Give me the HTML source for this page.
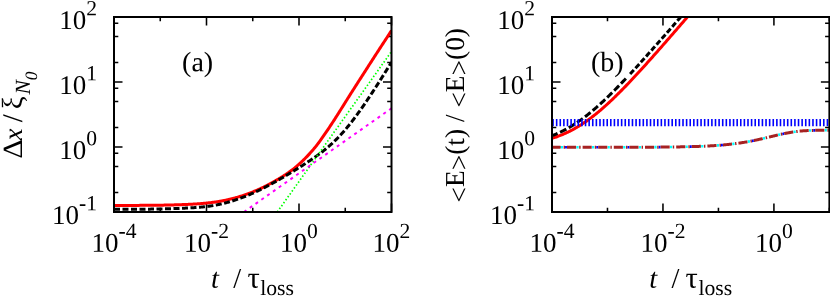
<!DOCTYPE html>
<html><head><meta charset="utf-8"><title>plot</title>
<style>html,body{margin:0;padding:0;background:#fff;}svg{display:block;will-change:transform;}text{text-rendering:geometricPrecision;font-family:"Liberation Serif",serif;fill:#000;}</style></head><body>
<svg width="830" height="297" viewBox="0 0 830 297">
<rect x="0" y="0" width="830" height="297" fill="#fff"/>
<clipPath id="c1"><rect x="114.00" y="17.00" width="277.50" height="195.00"/></clipPath>
<path d="M114.00,212.00v-8.50M114.00,17.00v8.50M160.25,212.00v-4.30M160.25,17.00v4.30M206.50,212.00v-8.50M206.50,17.00v8.50M252.75,212.00v-4.30M252.75,17.00v4.30M299.00,212.00v-8.50M299.00,17.00v8.50M345.25,212.00v-4.30M345.25,17.00v4.30M391.50,212.00v-8.50M391.50,17.00v8.50M114.00,212.00h8.50M391.50,212.00h-8.50M114.00,192.43h4.30M391.50,192.43h-4.30M114.00,166.57h4.30M391.50,166.57h-4.30M114.00,153.30h4.30M391.50,153.30h-4.30M114.00,147.00h8.50M391.50,147.00h-8.50M114.00,127.43h4.30M391.50,127.43h-4.30M114.00,101.57h4.30M391.50,101.57h-4.30M114.00,88.30h4.30M391.50,88.30h-4.30M114.00,82.00h8.50M391.50,82.00h-8.50M114.00,62.43h4.30M391.50,62.43h-4.30M114.00,36.57h4.30M391.50,36.57h-4.30M114.00,23.30h4.30M391.50,23.30h-4.30M114.00,17.00h8.50M391.50,17.00h-8.50" stroke="#000" stroke-width="1.55" fill="none"/>
<g clip-path="url(#c1)" fill="none">
<path d="M114.00,205.47 L114.70,205.46 L115.39,205.46 L116.09,205.46 L116.78,205.46 L117.48,205.46 L118.17,205.45 L118.87,205.45 L119.56,205.45 L120.26,205.45 L120.95,205.45 L121.65,205.45 L122.35,205.44 L123.04,205.44 L123.74,205.44 L124.43,205.44 L125.13,205.43 L125.82,205.43 L126.52,205.43 L127.21,205.43 L127.91,205.43 L128.61,205.42 L129.30,205.42 L130.00,205.42 L130.69,205.42 L131.39,205.41 L132.08,205.41 L132.78,205.41 L133.47,205.40 L134.17,205.40 L134.86,205.40 L135.56,205.40 L136.26,205.39 L136.95,205.39 L137.65,205.39 L138.34,205.38 L139.04,205.38 L139.73,205.37 L140.43,205.37 L141.12,205.37 L141.82,205.36 L142.52,205.36 L143.21,205.35 L143.91,205.35 L144.60,205.34 L145.30,205.34 L145.99,205.33 L146.69,205.33 L147.38,205.32 L148.08,205.32 L148.77,205.31 L149.47,205.31 L150.17,205.30 L150.86,205.29 L151.56,205.29 L152.25,205.28 L152.95,205.27 L153.64,205.27 L154.34,205.26 L155.03,205.25 L155.73,205.24 L156.42,205.23 L157.12,205.22 L157.82,205.22 L158.51,205.21 L159.21,205.20 L159.90,205.19 L160.60,205.18 L161.29,205.16 L161.99,205.15 L162.68,205.14 L163.38,205.13 L164.08,205.12 L164.77,205.10 L165.47,205.09 L166.16,205.08 L166.86,205.06 L167.55,205.05 L168.25,205.03 L168.94,205.02 L169.64,205.00 L170.33,204.98 L171.03,204.97 L171.73,204.95 L172.42,204.93 L173.12,204.91 L173.81,204.89 L174.51,204.87 L175.20,204.85 L175.90,204.83 L176.59,204.81 L177.29,204.78 L177.98,204.76 L178.68,204.74 L179.38,204.71 L180.07,204.69 L180.77,204.66 L181.46,204.64 L182.16,204.61 L182.85,204.58 L183.55,204.55 L184.24,204.53 L184.94,204.50 L185.64,204.47 L186.33,204.44 L187.03,204.41 L187.72,204.38 L188.42,204.34 L189.11,204.31 L189.81,204.28 L190.50,204.24 L191.20,204.21 L191.89,204.17 L192.59,204.13 L193.29,204.09 L193.98,204.05 L194.68,204.01 L195.37,203.97 L196.07,203.93 L196.76,203.88 L197.46,203.84 L198.15,203.79 L198.85,203.74 L199.55,203.69 L200.24,203.64 L200.94,203.58 L201.63,203.53 L202.33,203.47 L203.02,203.41 L203.72,203.35 L204.41,203.29 L205.11,203.22 L205.80,203.16 L206.50,203.09 L207.20,203.01 L207.89,202.94 L208.59,202.86 L209.28,202.79 L209.98,202.71 L210.67,202.62 L211.37,202.54 L212.06,202.45 L212.76,202.36 L213.45,202.26 L214.15,202.17 L214.85,202.07 L215.54,201.97 L216.24,201.86 L216.93,201.76 L217.63,201.65 L218.32,201.53 L219.02,201.42 L219.71,201.30 L220.41,201.18 L221.11,201.06 L221.80,200.93 L222.50,200.80 L223.19,200.66 L223.89,200.53 L224.58,200.39 L225.28,200.25 L225.97,200.10 L226.67,199.95 L227.36,199.80 L228.06,199.65 L228.76,199.49 L229.45,199.33 L230.15,199.16 L230.84,199.00 L231.54,198.83 L232.23,198.65 L232.93,198.47 L233.62,198.29 L234.32,198.11 L235.02,197.92 L235.71,197.73 L236.41,197.53 L237.10,197.34 L237.80,197.13 L238.49,196.93 L239.19,196.72 L239.88,196.51 L240.58,196.29 L241.27,196.07 L241.97,195.85 L242.67,195.62 L243.36,195.39 L244.06,195.16 L244.75,194.92 L245.45,194.68 L246.14,194.44 L246.84,194.19 L247.53,193.94 L248.23,193.68 L248.92,193.42 L249.62,193.16 L250.32,192.90 L251.01,192.63 L251.71,192.35 L252.40,192.07 L253.10,191.79 L253.79,191.51 L254.49,191.22 L255.18,190.93 L255.88,190.63 L256.58,190.33 L257.27,190.03 L257.97,189.72 L258.66,189.41 L259.36,189.10 L260.05,188.78 L260.75,188.45 L261.44,188.13 L262.14,187.80 L262.83,187.46 L263.53,187.13 L264.23,186.78 L264.92,186.44 L265.62,186.09 L266.31,185.74 L267.01,185.38 L267.70,185.02 L268.40,184.65 L269.09,184.29 L269.79,183.91 L270.48,183.54 L271.18,183.16 L271.88,182.78 L272.57,182.39 L273.27,182.00 L273.96,181.61 L274.66,181.21 L275.35,180.81 L276.05,180.41 L276.74,180.01 L277.44,179.60 L278.14,179.19 L278.83,178.77 L279.53,178.36 L280.22,177.94 L280.92,177.51 L281.61,177.09 L282.31,176.65 L283.00,176.22 L283.70,175.78 L284.39,175.33 L285.09,174.88 L285.79,174.43 L286.48,173.96 L287.18,173.49 L287.87,173.02 L288.57,172.54 L289.26,172.04 L289.96,171.54 L290.65,171.04 L291.35,170.52 L292.05,170.00 L292.74,169.46 L293.44,168.92 L294.13,168.36 L294.83,167.80 L295.52,167.23 L296.22,166.65 L296.91,166.06 L297.61,165.46 L298.30,164.85 L299.00,164.23 L299.70,163.60 L300.39,162.96 L301.09,162.32 L301.78,161.66 L302.48,161.00 L303.17,160.33 L303.87,159.64 L304.56,158.95 L305.26,158.25 L305.95,157.54 L306.65,156.83 L307.35,156.10 L308.04,155.37 L308.74,154.62 L309.43,153.87 L310.13,153.10 L310.82,152.33 L311.52,151.54 L312.21,150.74 L312.91,149.94 L313.61,149.12 L314.30,148.28 L315.00,147.44 L315.69,146.58 L316.39,145.71 L317.08,144.82 L317.78,143.91 L318.47,143.00 L319.17,142.07 L319.86,141.12 L320.56,140.16 L321.26,139.19 L321.95,138.21 L322.65,137.22 L323.34,136.23 L324.04,135.22 L324.73,134.21 L325.43,133.19 L326.12,132.17 L326.82,131.14 L327.52,130.11 L328.21,129.07 L328.91,128.04 L329.60,126.99 L330.30,125.95 L330.99,124.89 L331.69,123.84 L332.38,122.78 L333.08,121.71 L333.77,120.64 L334.47,119.57 L335.17,118.49 L335.86,117.40 L336.56,116.31 L337.25,115.22 L337.95,114.12 L338.64,113.02 L339.34,111.91 L340.03,110.80 L340.73,109.69 L341.42,108.58 L342.12,107.47 L342.82,106.36 L343.51,105.24 L344.21,104.13 L344.90,103.02 L345.60,101.91 L346.29,100.80 L346.99,99.69 L347.68,98.58 L348.38,97.47 L349.08,96.37 L349.77,95.26 L350.47,94.16 L351.16,93.06 L351.86,91.96 L352.55,90.87 L353.25,89.77 L353.94,88.68 L354.64,87.59 L355.33,86.50 L356.03,85.41 L356.73,84.33 L357.42,83.24 L358.12,82.16 L358.81,81.07 L359.51,79.99 L360.20,78.91 L360.90,77.82 L361.59,76.74 L362.29,75.66 L362.98,74.58 L363.68,73.49 L364.38,72.41 L365.07,71.33 L365.77,70.24 L366.46,69.16 L367.16,68.08 L367.85,66.99 L368.55,65.91 L369.24,64.82 L369.94,63.74 L370.64,62.66 L371.33,61.58 L372.03,60.50 L372.72,59.42 L373.42,58.34 L374.11,57.26 L374.81,56.18 L375.50,55.10 L376.20,54.03 L376.89,52.96 L377.59,51.89 L378.29,50.82 L378.98,49.75 L379.68,48.68 L380.37,47.62 L381.07,46.55 L381.76,45.49 L382.46,44.43 L383.15,43.37 L383.85,42.30 L384.55,41.24 L385.24,40.18 L385.94,39.11 L386.63,38.04 L387.33,36.98 L388.02,35.91 L388.72,34.83 L389.41,33.76 L390.11,32.68 L390.80,31.60 L391.50,30.51" stroke="#ff0000" stroke-width="3"/>
<path d="M114.00,209.35 L114.70,209.35 L115.39,209.35 L116.09,209.34 L116.78,209.34 L117.48,209.34 L118.17,209.34 L118.87,209.33 L119.56,209.33 L120.26,209.33 L120.95,209.33 L121.65,209.32 L122.35,209.32 L123.04,209.32 L123.74,209.32 L124.43,209.31 L125.13,209.31 L125.82,209.31 L126.52,209.31 L127.21,209.30 L127.91,209.30 L128.61,209.30 L129.30,209.29 L130.00,209.29 L130.69,209.29 L131.39,209.28 L132.08,209.28 L132.78,209.28 L133.47,209.27 L134.17,209.27 L134.86,209.26 L135.56,209.26 L136.26,209.26 L136.95,209.25 L137.65,209.25 L138.34,209.24 L139.04,209.24 L139.73,209.23 L140.43,209.23 L141.12,209.22 L141.82,209.22 L142.52,209.21 L143.21,209.20 L143.91,209.20 L144.60,209.19 L145.30,209.19 L145.99,209.18 L146.69,209.17 L147.38,209.16 L148.08,209.16 L148.77,209.15 L149.47,209.14 L150.17,209.13 L150.86,209.12 L151.56,209.12 L152.25,209.11 L152.95,209.10 L153.64,209.09 L154.34,209.08 L155.03,209.07 L155.73,209.06 L156.42,209.05 L157.12,209.03 L157.82,209.02 L158.51,209.01 L159.21,209.00 L159.90,208.98 L160.60,208.97 L161.29,208.96 L161.99,208.94 L162.68,208.93 L163.38,208.91 L164.08,208.90 L164.77,208.88 L165.47,208.86 L166.16,208.84 L166.86,208.83 L167.55,208.81 L168.25,208.79 L168.94,208.77 L169.64,208.75 L170.33,208.72 L171.03,208.70 L171.73,208.68 L172.42,208.66 L173.12,208.63 L173.81,208.61 L174.51,208.58 L175.20,208.55 L175.90,208.53 L176.59,208.50 L177.29,208.47 L177.98,208.44 L178.68,208.41 L179.38,208.38 L180.07,208.35 L180.77,208.32 L181.46,208.29 L182.16,208.26 L182.85,208.23 L183.55,208.19 L184.24,208.16 L184.94,208.13 L185.64,208.10 L186.33,208.06 L187.03,208.03 L187.72,207.99 L188.42,207.96 L189.11,207.92 L189.81,207.89 L190.50,207.85 L191.20,207.81 L191.89,207.77 L192.59,207.73 L193.29,207.69 L193.98,207.65 L194.68,207.60 L195.37,207.56 L196.07,207.51 L196.76,207.46 L197.46,207.41 L198.15,207.36 L198.85,207.30 L199.55,207.25 L200.24,207.19 L200.94,207.13 L201.63,207.06 L202.33,207.00 L203.02,206.93 L203.72,206.86 L204.41,206.78 L205.11,206.71 L205.80,206.63 L206.50,206.54 L207.20,206.46 L207.89,206.37 L208.59,206.27 L209.28,206.18 L209.98,206.08 L210.67,205.97 L211.37,205.87 L212.06,205.75 L212.76,205.64 L213.45,205.52 L214.15,205.40 L214.85,205.27 L215.54,205.14 L216.24,205.01 L216.93,204.87 L217.63,204.73 L218.32,204.59 L219.02,204.44 L219.71,204.29 L220.41,204.14 L221.11,203.98 L221.80,203.82 L222.50,203.65 L223.19,203.49 L223.89,203.31 L224.58,203.14 L225.28,202.96 L225.97,202.78 L226.67,202.60 L227.36,202.41 L228.06,202.22 L228.76,202.02 L229.45,201.82 L230.15,201.62 L230.84,201.42 L231.54,201.21 L232.23,201.00 L232.93,200.78 L233.62,200.56 L234.32,200.34 L235.02,200.11 L235.71,199.88 L236.41,199.65 L237.10,199.42 L237.80,199.18 L238.49,198.93 L239.19,198.69 L239.88,198.44 L240.58,198.18 L241.27,197.93 L241.97,197.67 L242.67,197.40 L243.36,197.14 L244.06,196.87 L244.75,196.59 L245.45,196.32 L246.14,196.04 L246.84,195.75 L247.53,195.47 L248.23,195.18 L248.92,194.89 L249.62,194.59 L250.32,194.29 L251.01,193.99 L251.71,193.69 L252.40,193.38 L253.10,193.07 L253.79,192.76 L254.49,192.44 L255.18,192.12 L255.88,191.80 L256.58,191.47 L257.27,191.14 L257.97,190.81 L258.66,190.48 L259.36,190.14 L260.05,189.81 L260.75,189.46 L261.44,189.12 L262.14,188.77 L262.83,188.42 L263.53,188.07 L264.23,187.72 L264.92,187.36 L265.62,187.00 L266.31,186.64 L267.01,186.27 L267.70,185.91 L268.40,185.54 L269.09,185.17 L269.79,184.79 L270.48,184.42 L271.18,184.04 L271.88,183.66 L272.57,183.28 L273.27,182.90 L273.96,182.51 L274.66,182.13 L275.35,181.74 L276.05,181.35 L276.74,180.95 L277.44,180.56 L278.14,180.17 L278.83,179.77 L279.53,179.37 L280.22,178.97 L280.92,178.57 L281.61,178.16 L282.31,177.76 L283.00,177.35 L283.70,176.95 L284.39,176.54 L285.09,176.13 L285.79,175.71 L286.48,175.30 L287.18,174.89 L287.87,174.47 L288.57,174.05 L289.26,173.64 L289.96,173.22 L290.65,172.79 L291.35,172.37 L292.05,171.95 L292.74,171.52 L293.44,171.10 L294.13,170.67 L294.83,170.24 L295.52,169.81 L296.22,169.38 L296.91,168.95 L297.61,168.52 L298.30,168.08 L299.00,167.65 L299.70,167.21 L300.39,166.77 L301.09,166.33 L301.78,165.89 L302.48,165.45 L303.17,165.00 L303.87,164.55 L304.56,164.11 L305.26,163.66 L305.95,163.20 L306.65,162.75 L307.35,162.29 L308.04,161.83 L308.74,161.37 L309.43,160.91 L310.13,160.44 L310.82,159.97 L311.52,159.50 L312.21,159.03 L312.91,158.55 L313.61,158.07 L314.30,157.58 L315.00,157.09 L315.69,156.60 L316.39,156.11 L317.08,155.61 L317.78,155.10 L318.47,154.60 L319.17,154.08 L319.86,153.57 L320.56,153.04 L321.26,152.52 L321.95,151.98 L322.65,151.44 L323.34,150.90 L324.04,150.35 L324.73,149.79 L325.43,149.23 L326.12,148.66 L326.82,148.08 L327.52,147.50 L328.21,146.90 L328.91,146.30 L329.60,145.69 L330.30,145.08 L330.99,144.45 L331.69,143.82 L332.38,143.17 L333.08,142.52 L333.77,141.86 L334.47,141.20 L335.17,140.52 L335.86,139.83 L336.56,139.14 L337.25,138.43 L337.95,137.72 L338.64,137.00 L339.34,136.27 L340.03,135.53 L340.73,134.78 L341.42,134.02 L342.12,133.25 L342.82,132.48 L343.51,131.69 L344.21,130.90 L344.90,130.09 L345.60,129.28 L346.29,128.46 L346.99,127.63 L347.68,126.79 L348.38,125.94 L349.08,125.08 L349.77,124.22 L350.47,123.34 L351.16,122.46 L351.86,121.57 L352.55,120.66 L353.25,119.76 L353.94,118.84 L354.64,117.92 L355.33,116.98 L356.03,116.05 L356.73,115.10 L357.42,114.15 L358.12,113.19 L358.81,112.23 L359.51,111.26 L360.20,110.28 L360.90,109.30 L361.59,108.31 L362.29,107.32 L362.98,106.32 L363.68,105.32 L364.38,104.31 L365.07,103.30 L365.77,102.28 L366.46,101.26 L367.16,100.23 L367.85,99.20 L368.55,98.16 L369.24,97.12 L369.94,96.07 L370.64,95.03 L371.33,93.97 L372.03,92.92 L372.72,91.86 L373.42,90.79 L374.11,89.72 L374.81,88.65 L375.50,87.58 L376.20,86.50 L376.89,85.42 L377.59,84.34 L378.29,83.25 L378.98,82.16 L379.68,81.07 L380.37,79.98 L381.07,78.88 L381.76,77.78 L382.46,76.68 L383.15,75.58 L383.85,74.47 L384.55,73.36 L385.24,72.25 L385.94,71.14 L386.63,70.03 L387.33,68.91 L388.02,67.80 L388.72,66.68 L389.41,65.56 L390.11,64.44 L390.80,63.32 L391.50,62.19" stroke="#000" stroke-width="3" stroke-dasharray="6 2.5"/>
<path d="M277.30,212.00 L391.50,51.50" stroke="#00ff00" stroke-width="1.7" stroke-dasharray="1.5 2.1"/>
<path d="M243.93,212.00 L391.50,108.30" stroke="#ff00ff" stroke-width="2" stroke-dasharray="3 4.1"/>
</g>
<rect x="114.00" y="17.00" width="277.50" height="195.00" fill="none" stroke="#000" stroke-width="2"/>
<text x="97.00" y="29.00" font-size="27.0" text-anchor="end" transform="rotate(0.05 97.00 29.00)">10<tspan dy="-13.8" font-size="21.6">2</tspan></text>
<text x="97.00" y="94.00" font-size="27.0" text-anchor="end" transform="rotate(0.05 97.00 94.00)">10<tspan dy="-13.8" font-size="21.6">1</tspan></text>
<text x="97.00" y="159.00" font-size="27.0" text-anchor="end" transform="rotate(0.05 97.00 159.00)">10<tspan dy="-13.8" font-size="21.6">0</tspan></text>
<text x="97.00" y="224.00" font-size="27.0" text-anchor="end" transform="rotate(0.05 97.00 224.00)">10<tspan dy="-13.8" font-size="21.6">-1</tspan></text>
<text x="114.00" y="251.80" font-size="27.0" text-anchor="middle" transform="rotate(0.05 114.00 251.80)">10<tspan dy="-13.8" font-size="21.6">-4</tspan></text>
<text x="206.50" y="251.80" font-size="27.0" text-anchor="middle" transform="rotate(0.05 206.50 251.80)">10<tspan dy="-13.8" font-size="21.6">-2</tspan></text>
<text x="299.00" y="251.80" font-size="27.0" text-anchor="middle" transform="rotate(0.05 299.00 251.80)">10<tspan dy="-13.8" font-size="21.6">0</tspan></text>
<text x="391.50" y="251.80" font-size="27.0" text-anchor="middle" transform="rotate(0.05 391.50 251.80)">10<tspan dy="-13.8" font-size="21.6">2</tspan></text>
<text x="182.1" y="71.2" font-size="28" transform="rotate(0.05 182 71)">(a)</text>
<text y="287.7" font-size="27" transform="rotate(0.05 250 288)"><tspan x="211.1" font-size="28.5" font-style="italic">t</tspan><tspan x="233.2" font-size="28.5">/</tspan><tspan x="247.4" font-size="30.5">τ</tspan><tspan x="260.2" dy="7.3" font-size="21.7">loss</tspan></text>
<g transform="translate(22.4,0) rotate(-90)">
<text font-size="27.8" transform="translate(-158.7,0) scale(1.09,1)" x="0" y="0">Δ</text>
<text font-size="27" y="0"><tspan x="-140.6" font-size="27" font-style="italic">x</tspan><tspan x="-122.2" font-size="28.5">/</tspan><tspan x="-109.3" font-size="29">ξ</tspan><tspan x="-94.5" dy="7.7" font-size="21.6" font-style="italic">N</tspan><tspan x="-80.3" dy="7" font-size="17.3" font-style="italic">0</tspan></text>
</g>
<clipPath id="c2"><rect x="552.00" y="17.00" width="277.40" height="195.00"/></clipPath>
<path d="M552.00,212.00v-8.50M552.00,17.00v8.50M607.48,212.00v-4.30M607.48,17.00v4.30M662.96,212.00v-8.50M662.96,17.00v8.50M718.44,212.00v-4.30M718.44,17.00v4.30M773.92,212.00v-8.50M773.92,17.00v8.50M829.40,212.00v-4.30M829.40,17.00v4.30M552.00,212.00h8.50M829.40,212.00h-8.50M552.00,192.43h4.30M829.40,192.43h-4.30M552.00,166.57h4.30M829.40,166.57h-4.30M552.00,153.30h4.30M829.40,153.30h-4.30M552.00,147.00h8.50M829.40,147.00h-8.50M552.00,127.43h4.30M829.40,127.43h-4.30M552.00,101.57h4.30M829.40,101.57h-4.30M552.00,88.30h4.30M829.40,88.30h-4.30M552.00,82.00h8.50M829.40,82.00h-8.50M552.00,62.43h4.30M829.40,62.43h-4.30M552.00,36.57h4.30M829.40,36.57h-4.30M552.00,23.30h4.30M829.40,23.30h-4.30M552.00,17.00h8.50M829.40,17.00h-8.50" stroke="#000" stroke-width="1.55" fill="none"/>
<g clip-path="url(#c2)" fill="none">
<path d="M552.00,138.34 L552.70,138.12 L553.39,137.90 L554.09,137.67 L554.78,137.44 L555.48,137.21 L556.17,136.97 L556.87,136.72 L557.56,136.47 L558.26,136.21 L558.95,135.95 L559.65,135.68 L560.34,135.41 L561.04,135.14 L561.73,134.85 L562.43,134.57 L563.12,134.27 L563.82,133.97 L564.51,133.67 L565.21,133.36 L565.90,133.05 L566.60,132.73 L567.30,132.40 L567.99,132.07 L568.69,131.73 L569.38,131.39 L570.08,131.04 L570.77,130.68 L571.47,130.32 L572.16,129.96 L572.86,129.59 L573.55,129.21 L574.25,128.82 L574.94,128.43 L575.64,128.04 L576.33,127.64 L577.03,127.23 L577.72,126.82 L578.42,126.40 L579.11,125.97 L579.81,125.54 L580.50,125.11 L581.20,124.66 L581.90,124.22 L582.59,123.76 L583.29,123.30 L583.98,122.84 L584.68,122.36 L585.37,121.89 L586.07,121.40 L586.76,120.92 L587.46,120.42 L588.15,119.92 L588.85,119.42 L589.54,118.91 L590.24,118.39 L590.93,117.87 L591.63,117.34 L592.32,116.81 L593.02,116.27 L593.71,115.73 L594.41,115.18 L595.10,114.63 L595.80,114.07 L596.50,113.51 L597.19,112.94 L597.89,112.36 L598.58,111.79 L599.28,111.20 L599.97,110.62 L600.67,110.02 L601.36,109.43 L602.06,108.82 L602.75,108.22 L603.45,107.61 L604.14,106.99 L604.84,106.37 L605.53,105.75 L606.23,105.12 L606.92,104.49 L607.62,103.85 L608.31,103.21 L609.01,102.57 L609.70,101.92 L610.40,101.27 L611.10,100.62 L611.79,99.96 L612.49,99.30 L613.18,98.63 L613.88,97.96 L614.57,97.29 L615.27,96.61 L615.96,95.93 L616.66,95.25 L617.35,94.56 L618.05,93.87 L618.74,93.18 L619.44,92.49 L620.13,91.79 L620.83,91.09 L621.52,90.38 L622.22,89.68 L622.91,88.97 L623.61,88.26 L624.30,87.54 L625.00,86.83 L625.70,86.11 L626.39,85.39 L627.09,84.66 L627.78,83.94 L628.48,83.21 L629.17,82.48 L629.87,81.74 L630.56,81.01 L631.26,80.27 L631.95,79.53 L632.65,78.79 L633.34,78.05 L634.04,77.31 L634.73,76.56 L635.43,75.81 L636.12,75.06 L636.82,74.31 L637.51,73.56 L638.21,72.80 L638.90,72.04 L639.60,71.29 L640.30,70.53 L640.99,69.77 L641.69,69.00 L642.38,68.24 L643.08,67.47 L643.77,66.71 L644.47,65.94 L645.16,65.17 L645.86,64.40 L646.55,63.63 L647.25,62.86 L647.94,62.08 L648.64,61.31 L649.33,60.53 L650.03,59.76 L650.72,58.98 L651.42,58.20 L652.11,57.42 L652.81,56.64 L653.50,55.86 L654.20,55.07 L654.90,54.29 L655.59,53.50 L656.29,52.72 L656.98,51.93 L657.68,51.15 L658.37,50.36 L659.07,49.57 L659.76,48.78 L660.46,47.99 L661.15,47.20 L661.85,46.41 L662.54,45.62 L663.24,44.83 L663.93,44.03 L664.63,43.24 L665.32,42.45 L666.02,41.65 L666.71,40.86 L667.41,40.06 L668.10,39.26 L668.80,38.47 L669.50,37.67 L670.19,36.87 L670.89,36.07 L671.58,35.27 L672.28,34.47 L672.97,33.68 L673.67,32.88 L674.36,32.07 L675.06,31.27 L675.75,30.47 L676.45,29.67 L677.14,28.87 L677.84,28.07 L678.53,27.26 L679.23,26.46 L679.92,25.66 L680.62,24.85 L681.31,24.05 L682.01,23.25 L682.70,22.44 L683.40,21.64 L684.10,20.83 L684.79,20.03 L685.49,19.22 L686.18,18.41 L686.88,17.61 L687.57,16.80 L688.27,16.00 L688.96,15.19 L689.66,14.38 L690.35,13.57 L691.05,12.77 L691.74,11.96 L692.44,11.15 L693.13,10.34 L693.83,9.54 L694.52,8.73 L695.22,7.92 L695.91,7.11 L696.61,6.30 L697.30,5.49 L698.00,4.68 L698.70,3.87 L699.39,3.06 L700.09,2.25 L700.78,1.44 L701.48,0.64 L702.17,-0.18 L702.87,-0.99 L703.56,-1.80 L704.26,-2.61 L704.95,-3.42 L705.65,-4.23 L706.34,-5.04 L707.04,-5.85 L707.73,-6.66 L708.43,-7.47 L709.12,-8.28 L709.82,-9.09 L710.51,-9.90 L711.21,-10.72 L711.90,-11.53 L712.60,-12.34 L713.30,-13.15 L713.99,-13.96 L714.69,-14.77 L715.38,-15.59 L716.08,-16.40 L716.77,-17.21 L717.47,-18.02 L718.16,-18.83 L718.86,-19.65 L719.55,-20.46 L720.25,-21.27 L720.94,-22.08 L721.64,-22.90 L722.33,-23.71 L723.03,-24.52 L723.72,-25.33 L724.42,-26.15 L725.11,-26.96 L725.81,-27.77 L726.50,-28.59 L727.20,-29.40 L727.90,-30.21 L728.59,-31.02 L729.29,-31.84 L729.98,-32.65 L730.68,-33.46 L731.37,-34.28 L732.07,-35.09 L732.76,-35.90 L733.46,-36.72 L734.15,-37.53 L734.85,-38.34 L735.54,-39.16 L736.24,-39.97 L736.93,-40.78 L737.63,-41.60 L738.32,-42.41 L739.02,-43.22 L739.71,-44.04 L740.41,-44.85 L741.10,-45.67 L741.80,-46.48 L742.50,-47.29 L743.19,-48.11 L743.89,-48.92 L744.58,-49.73 L745.28,-50.55 L745.97,-51.36 L746.67,-52.18 L747.36,-52.99 L748.06,-53.80 L748.75,-54.62 L749.45,-55.43 L750.14,-56.25 L750.84,-57.06 L751.53,-57.87 L752.23,-58.69 L752.92,-59.50 L753.62,-60.31 L754.31,-61.13 L755.01,-61.94 L755.70,-62.76 L756.40,-63.57 L757.10,-64.39 L757.79,-65.20 L758.49,-66.01 L759.18,-66.83 L759.88,-67.64 L760.57,-68.46 L761.27,-69.27 L761.96,-70.08 L762.66,-70.90 L763.35,-71.71 L764.05,-72.53 L764.74,-73.34 L765.44,-74.15 L766.13,-74.97 L766.83,-75.78 L767.52,-76.60 L768.22,-77.41 L768.91,-78.23 L769.61,-79.04 L770.30,-79.85 L771.00,-80.67 L771.70,-81.48 L772.39,-82.30 L773.09,-83.11 L773.78,-83.93 L774.48,-84.74 L775.17,-85.55 L775.87,-86.37 L776.56,-87.18 L777.26,-88.00 L777.95,-88.81 L778.65,-89.63 L779.34,-90.44 L780.04,-91.26 L780.73,-92.07 L781.43,-92.88 L782.12,-93.70 L782.82,-94.51 L783.51,-95.33 L784.21,-96.14 L784.90,-96.96 L785.60,-97.77 L786.30,-98.58 L786.99,-99.40 L787.69,-100.21 L788.38,-101.03 L789.08,-101.84 L789.77,-102.66 L790.47,-103.47 L791.16,-104.29 L791.86,-105.10 L792.55,-105.91 L793.25,-106.73 L793.94,-107.54 L794.64,-108.36 L795.33,-109.17 L796.03,-109.99 L796.72,-110.80 L797.42,-111.62 L798.11,-112.43 L798.81,-113.24 L799.50,-114.06 L800.20,-114.87 L800.90,-115.69 L801.59,-116.50 L802.29,-117.32 L802.98,-118.13 L803.68,-118.95 L804.37,-119.76 L805.07,-120.57 L805.76,-121.39 L806.46,-122.20 L807.15,-123.02 L807.85,-123.83 L808.54,-124.65 L809.24,-125.46 L809.93,-126.28 L810.63,-127.09 L811.32,-127.90 L812.02,-128.72 L812.71,-129.53 L813.41,-130.35 L814.10,-131.16 L814.80,-131.98 L815.50,-132.79 L816.19,-133.61 L816.89,-134.42 L817.58,-135.24 L818.28,-136.05 L818.97,-136.86 L819.67,-137.68 L820.36,-138.49 L821.06,-139.31 L821.75,-140.12 L822.45,-140.94 L823.14,-141.75 L823.84,-142.57 L824.53,-143.38 L825.23,-144.19 L825.92,-145.01 L826.62,-145.82 L827.31,-146.64 L828.01,-147.45 L828.70,-148.27 L829.40,-149.08" stroke="#ff0000" stroke-width="3"/>
<path d="M552.00,135.72 L552.70,135.46 L553.39,135.18 L554.09,134.90 L554.78,134.62 L555.48,134.33 L556.17,134.03 L556.87,133.73 L557.56,133.43 L558.26,133.11 L558.95,132.80 L559.65,132.47 L560.34,132.15 L561.04,131.81 L561.73,131.47 L562.43,131.13 L563.12,130.78 L563.82,130.42 L564.51,130.06 L565.21,129.69 L565.90,129.32 L566.60,128.94 L567.30,128.55 L567.99,128.16 L568.69,127.76 L569.38,127.36 L570.08,126.95 L570.77,126.54 L571.47,126.12 L572.16,125.69 L572.86,125.26 L573.55,124.82 L574.25,124.38 L574.94,123.93 L575.64,123.47 L576.33,123.01 L577.03,122.55 L577.72,122.08 L578.42,121.60 L579.11,121.12 L579.81,120.63 L580.50,120.13 L581.20,119.63 L581.90,119.13 L582.59,118.62 L583.29,118.10 L583.98,117.58 L584.68,117.06 L585.37,116.52 L586.07,115.99 L586.76,115.45 L587.46,114.90 L588.15,114.35 L588.85,113.79 L589.54,113.23 L590.24,112.66 L590.93,112.09 L591.63,111.51 L592.32,110.93 L593.02,110.34 L593.71,109.75 L594.41,109.16 L595.10,108.56 L595.80,107.95 L596.50,107.35 L597.19,106.73 L597.89,106.12 L598.58,105.50 L599.28,104.87 L599.97,104.24 L600.67,103.61 L601.36,102.97 L602.06,102.33 L602.75,101.68 L603.45,101.04 L604.14,100.38 L604.84,99.73 L605.53,99.07 L606.23,98.41 L606.92,97.74 L607.62,97.07 L608.31,96.40 L609.01,95.72 L609.70,95.04 L610.40,94.36 L611.10,93.68 L611.79,92.99 L612.49,92.30 L613.18,91.60 L613.88,90.90 L614.57,90.21 L615.27,89.50 L615.96,88.80 L616.66,88.09 L617.35,87.38 L618.05,86.67 L618.74,85.95 L619.44,85.24 L620.13,84.52 L620.83,83.79 L621.52,83.07 L622.22,82.34 L622.91,81.62 L623.61,80.89 L624.30,80.15 L625.00,79.42 L625.70,78.68 L626.39,77.94 L627.09,77.20 L627.78,76.46" stroke="#000" stroke-width="3" stroke-dasharray="7 2.8" stroke-dashoffset="1"/>
<path d="M628.48,75.72 L629.17,74.97 L629.87,74.23 L630.56,73.48 L631.26,72.73 L631.95,71.98 L632.65,71.22 L633.34,70.47 L634.04,69.71 L634.73,68.96 L635.43,68.20 L636.12,67.44 L636.82,66.67 L637.51,65.91 L638.21,65.15 L638.90,64.38 L639.60,63.62 L640.30,62.85 L640.99,62.08 L641.69,61.31 L642.38,60.54 L643.08,59.77 L643.77,58.99 L644.47,58.22 L645.16,57.45 L645.86,56.67 L646.55,55.89 L647.25,55.12 L647.94,54.34 L648.64,53.56 L649.33,52.78 L650.03,52.00 L650.72,51.22 L651.42,50.43 L652.11,49.65 L652.81,48.87 L653.50,48.08 L654.20,47.30 L654.90,46.51 L655.59,45.73 L656.29,44.94 L656.98,44.15 L657.68,43.36 L658.37,42.57 L659.07,41.78 L659.76,40.99 L660.46,40.20 L661.15,39.41 L661.85,38.62 L662.54,37.83 L663.24,37.04 L663.93,36.24 L664.63,35.45 L665.32,34.66 L666.02,33.86 L666.71,33.07 L667.41,32.27 L668.10,31.48 L668.80,30.68 L669.50,29.89 L670.19,29.09 L670.89,28.29 L671.58,27.49 L672.28,26.70 L672.97,25.90 L673.67,25.10 L674.36,24.30 L675.06,23.50 L675.75,22.70 L676.45,21.90 L677.14,21.11 L677.84,20.31 L678.53,19.50 L679.23,18.70 L679.92,17.90 L680.62,17.10 L681.31,16.30 L682.01,15.50 L682.70,14.70 L683.40,13.90 L684.10,13.09 L684.79,12.29 L685.49,11.49 L686.18,10.69 L686.88,9.88 L687.57,9.08 L688.27,8.28 L688.96,7.48 L689.66,6.67 L690.35,5.87 L691.05,5.06 L691.74,4.26 L692.44,3.46 L693.13,2.65 L693.83,1.85 L694.52,1.04 L695.22,0.24 L695.91,-0.57 L696.61,-1.37 L697.30,-2.18 L698.00,-2.98 L698.70,-3.79 L699.39,-4.59 L700.09,-5.40 L700.78,-6.20 L701.48,-7.01 L702.17,-7.81 L702.87,-8.62 L703.56,-9.43 L704.26,-10.23 L704.95,-11.04 L705.65,-11.84 L706.34,-12.65 L707.04,-13.46 L707.73,-14.26 L708.43,-15.07 L709.12,-15.88 L709.82,-16.68 L710.51,-17.49 L711.21,-18.30 L711.90,-19.10 L712.60,-19.91 L713.30,-20.72 L713.99,-21.52 L714.69,-22.33 L715.38,-23.14 L716.08,-23.95 L716.77,-24.75 L717.47,-25.56 L718.16,-26.37 L718.86,-27.18 L719.55,-27.98 L720.25,-28.79 L720.94,-29.60 L721.64,-30.41 L722.33,-31.21 L723.03,-32.02 L723.72,-32.83 L724.42,-33.64 L725.11,-34.44 L725.81,-35.25 L726.50,-36.06 L727.20,-36.87 L727.90,-37.68 L728.59,-38.48 L729.29,-39.29 L729.98,-40.10 L730.68,-40.91 L731.37,-41.72 L732.07,-42.52 L732.76,-43.33 L733.46,-44.14 L734.15,-44.95 L734.85,-45.76 L735.54,-46.57 L736.24,-47.37 L736.93,-48.18 L737.63,-48.99 L738.32,-49.80 L739.02,-50.61 L739.71,-51.42 L740.41,-52.22 L741.10,-53.03 L741.80,-53.84 L742.50,-54.65 L743.19,-55.46 L743.89,-56.27 L744.58,-57.08 L745.28,-57.88 L745.97,-58.69 L746.67,-59.50 L747.36,-60.31 L748.06,-61.12 L748.75,-61.93 L749.45,-62.74 L750.14,-63.54 L750.84,-64.35 L751.53,-65.16 L752.23,-65.97 L752.92,-66.78 L753.62,-67.59 L754.31,-68.40 L755.01,-69.21 L755.70,-70.01 L756.40,-70.82 L757.10,-71.63 L757.79,-72.44 L758.49,-73.25 L759.18,-74.06 L759.88,-74.87 L760.57,-75.68 L761.27,-76.49 L761.96,-77.29 L762.66,-78.10 L763.35,-78.91 L764.05,-79.72 L764.74,-80.53 L765.44,-81.34 L766.13,-82.15 L766.83,-82.96 L767.52,-83.77 L768.22,-84.57 L768.91,-85.38 L769.61,-86.19 L770.30,-87.00 L771.00,-87.81 L771.70,-88.62 L772.39,-89.43 L773.09,-90.24 L773.78,-91.05 L774.48,-91.86 L775.17,-92.66 L775.87,-93.47 L776.56,-94.28 L777.26,-95.09 L777.95,-95.90 L778.65,-96.71 L779.34,-97.52 L780.04,-98.33 L780.73,-99.14 L781.43,-99.95 L782.12,-100.75 L782.82,-101.56 L783.51,-102.37 L784.21,-103.18 L784.90,-103.99 L785.60,-104.80 L786.30,-105.61 L786.99,-106.42 L787.69,-107.23 L788.38,-108.04 L789.08,-108.84 L789.77,-109.65 L790.47,-110.46 L791.16,-111.27 L791.86,-112.08 L792.55,-112.89 L793.25,-113.70 L793.94,-114.51 L794.64,-115.32 L795.33,-116.13 L796.03,-116.94 L796.72,-117.74 L797.42,-118.55 L798.11,-119.36 L798.81,-120.17 L799.50,-120.98 L800.20,-121.79 L800.90,-122.60 L801.59,-123.41 L802.29,-124.22 L802.98,-125.03 L803.68,-125.84 L804.37,-126.64 L805.07,-127.45 L805.76,-128.26 L806.46,-129.07 L807.15,-129.88 L807.85,-130.69 L808.54,-131.50 L809.24,-132.31 L809.93,-133.12 L810.63,-133.93 L811.32,-134.74 L812.02,-135.54 L812.71,-136.35 L813.41,-137.16 L814.10,-137.97 L814.80,-138.78 L815.50,-139.59 L816.19,-140.40 L816.89,-141.21 L817.58,-142.02 L818.28,-142.83 L818.97,-143.64 L819.67,-144.45 L820.36,-145.25 L821.06,-146.06 L821.75,-146.87 L822.45,-147.68 L823.14,-148.49 L823.84,-149.30 L824.53,-150.11 L825.23,-150.92 L825.92,-151.73 L826.62,-152.54 L827.31,-153.35 L828.01,-154.16 L828.70,-154.96 L829.40,-155.77" stroke="#000" stroke-width="3" stroke-dasharray="5.5 2.4" stroke-dashoffset="-2.4"/>
<path d="M552.00,122.6 H829.40" stroke="#0000ff" stroke-width="7.4" stroke-dasharray="1.6 2.01" stroke-dashoffset="-0.25"/>
<path d="M552.00,147.30 L552.70,147.30 L553.39,147.30 L554.09,147.30 L554.78,147.30 L555.48,147.30 L556.17,147.30 L556.87,147.30 L557.56,147.30 L558.26,147.30 L558.95,147.30 L559.65,147.30 L560.34,147.30 L561.04,147.30 L561.73,147.30 L562.43,147.30 L563.12,147.30 L563.82,147.30 L564.51,147.30 L565.21,147.30 L565.90,147.30 L566.60,147.30 L567.30,147.30 L567.99,147.30 L568.69,147.30 L569.38,147.30 L570.08,147.30 L570.77,147.30 L571.47,147.30 L572.16,147.30 L572.86,147.29 L573.55,147.29 L574.25,147.29 L574.94,147.29 L575.64,147.29 L576.33,147.29 L577.03,147.29 L577.72,147.29 L578.42,147.29 L579.11,147.29 L579.81,147.29 L580.50,147.29 L581.20,147.29 L581.90,147.29 L582.59,147.29 L583.29,147.29 L583.98,147.29 L584.68,147.29 L585.37,147.29 L586.07,147.29 L586.76,147.29 L587.46,147.29 L588.15,147.29 L588.85,147.29 L589.54,147.29 L590.24,147.29 L590.93,147.29 L591.63,147.29 L592.32,147.29 L593.02,147.29 L593.71,147.29 L594.41,147.29 L595.10,147.29 L595.80,147.29 L596.50,147.29 L597.19,147.29 L597.89,147.29 L598.58,147.29 L599.28,147.28 L599.97,147.28 L600.67,147.28 L601.36,147.28 L602.06,147.28 L602.75,147.28 L603.45,147.28 L604.14,147.28 L604.84,147.28 L605.53,147.28 L606.23,147.28 L606.92,147.28 L607.62,147.28 L608.31,147.28 L609.01,147.28 L609.70,147.28 L610.40,147.28 L611.10,147.28 L611.79,147.27 L612.49,147.27 L613.18,147.27 L613.88,147.27 L614.57,147.27 L615.27,147.27 L615.96,147.27 L616.66,147.27 L617.35,147.27 L618.05,147.27 L618.74,147.27 L619.44,147.27 L620.13,147.26 L620.83,147.26 L621.52,147.26 L622.22,147.26 L622.91,147.26 L623.61,147.26 L624.30,147.26 L625.00,147.26 L625.70,147.25 L626.39,147.25 L627.09,147.25 L627.78,147.25 L628.48,147.25 L629.17,147.25 L629.87,147.25 L630.56,147.24 L631.26,147.24 L631.95,147.24 L632.65,147.24 L633.34,147.24 L634.04,147.24 L634.73,147.23 L635.43,147.23 L636.12,147.23 L636.82,147.23 L637.51,147.23 L638.21,147.22 L638.90,147.22 L639.60,147.22 L640.30,147.22 L640.99,147.21 L641.69,147.21 L642.38,147.21 L643.08,147.21 L643.77,147.20 L644.47,147.20 L645.16,147.20 L645.86,147.20 L646.55,147.19 L647.25,147.19 L647.94,147.19 L648.64,147.18 L649.33,147.18 L650.03,147.18 L650.72,147.17 L651.42,147.17 L652.11,147.16 L652.81,147.16 L653.50,147.16 L654.20,147.15 L654.90,147.15 L655.59,147.14 L656.29,147.14 L656.98,147.13 L657.68,147.13 L658.37,147.13 L659.07,147.12 L659.76,147.11 L660.46,147.11 L661.15,147.10 L661.85,147.10 L662.54,147.09 L663.24,147.09 L663.93,147.08 L664.63,147.07 L665.32,147.07 L666.02,147.06 L666.71,147.05 L667.41,147.05 L668.10,147.04 L668.80,147.03 L669.50,147.02 L670.19,147.02 L670.89,147.01 L671.58,147.00 L672.28,146.99 L672.97,146.98 L673.67,146.97 L674.36,146.96 L675.06,146.95 L675.75,146.94 L676.45,146.93 L677.14,146.92 L677.84,146.91 L678.53,146.90 L679.23,146.89 L679.92,146.88 L680.62,146.86 L681.31,146.85 L682.01,146.84 L682.70,146.83 L683.40,146.81 L684.10,146.80 L684.79,146.78 L685.49,146.77 L686.18,146.75 L686.88,146.74 L687.57,146.72 L688.27,146.71 L688.96,146.69 L689.66,146.67 L690.35,146.65 L691.05,146.63 L691.74,146.62 L692.44,146.60 L693.13,146.58 L693.83,146.56 L694.52,146.53 L695.22,146.51 L695.91,146.49 L696.61,146.47 L697.30,146.44 L698.00,146.42 L698.70,146.39 L699.39,146.37 L700.09,146.34 L700.78,146.32 L701.48,146.29 L702.17,146.26 L702.87,146.23 L703.56,146.20 L704.26,146.17 L704.95,146.14 L705.65,146.11 L706.34,146.07 L707.04,146.04 L707.73,146.00 L708.43,145.97 L709.12,145.93 L709.82,145.89 L710.51,145.85 L711.21,145.81 L711.90,145.77 L712.60,145.73 L713.30,145.69 L713.99,145.64 L714.69,145.60 L715.38,145.55 L716.08,145.50 L716.77,145.46 L717.47,145.41 L718.16,145.35 L718.86,145.30 L719.55,145.25 L720.25,145.19 L720.94,145.14 L721.64,145.08 L722.33,145.02 L723.03,144.96 L723.72,144.90 L724.42,144.83 L725.11,144.77 L725.81,144.70 L726.50,144.63 L727.20,144.56 L727.90,144.49 L728.59,144.42 L729.29,144.35 L729.98,144.27 L730.68,144.19 L731.37,144.11 L732.07,144.03 L732.76,143.95 L733.46,143.86 L734.15,143.78 L734.85,143.69 L735.54,143.60 L736.24,143.51 L736.93,143.41 L737.63,143.32 L738.32,143.22 L739.02,143.12 L739.71,143.02 L740.41,142.91 L741.10,142.81 L741.80,142.70 L742.50,142.59 L743.19,142.48 L743.89,142.37 L744.58,142.25 L745.28,142.14 L745.97,142.02 L746.67,141.90 L747.36,141.77 L748.06,141.65 L748.75,141.52 L749.45,141.39 L750.14,141.26 L750.84,141.13 L751.53,140.99 L752.23,140.86 L752.92,140.72 L753.62,140.58 L754.31,140.44 L755.01,140.29 L755.70,140.15 L756.40,140.00 L757.10,139.85 L757.79,139.70 L758.49,139.55 L759.18,139.40 L759.88,139.24 L760.57,139.09 L761.27,138.93 L761.96,138.77 L762.66,138.61 L763.35,138.45 L764.05,138.29 L764.74,138.13 L765.44,137.96 L766.13,137.80 L766.83,137.63 L767.52,137.47 L768.22,137.30 L768.91,137.14 L769.61,136.97 L770.30,136.80 L771.00,136.64 L771.70,136.47 L772.39,136.30 L773.09,136.14 L773.78,135.97 L774.48,135.80 L775.17,135.64 L775.87,135.48 L776.56,135.31 L777.26,135.15 L777.95,134.99 L778.65,134.83 L779.34,134.67 L780.04,134.51 L780.73,134.36 L781.43,134.21 L782.12,134.05 L782.82,133.91 L783.51,133.76 L784.21,133.61 L784.90,133.47 L785.60,133.33 L786.30,133.19 L786.99,133.06 L787.69,132.92 L788.38,132.80 L789.08,132.67 L789.77,132.55 L790.47,132.43 L791.16,132.31 L791.86,132.20 L792.55,132.09 L793.25,131.98 L793.94,131.88 L794.64,131.78 L795.33,131.68 L796.03,131.59 L796.72,131.50 L797.42,131.41 L798.11,131.33 L798.81,131.25 L799.50,131.18 L800.20,131.11 L800.90,131.04 L801.59,130.98 L802.29,130.92 L802.98,130.86 L803.68,130.81 L804.37,130.76 L805.07,130.71 L805.76,130.67 L806.46,130.63 L807.15,130.59 L807.85,130.55 L808.54,130.52 L809.24,130.49 L809.93,130.46 L810.63,130.44 L811.32,130.42 L812.02,130.40 L812.71,130.38 L813.41,130.36 L814.10,130.34 L814.80,130.33 L815.50,130.32 L816.19,130.31 L816.89,130.30 L817.58,130.29 L818.28,130.28 L818.97,130.28 L819.67,130.27 L820.36,130.27 L821.06,130.26 L821.75,130.26 L822.45,130.25 L823.14,130.25 L823.84,130.25 L824.53,130.25 L825.23,130.25 L825.92,130.25 L826.62,130.24 L827.31,130.24 L828.01,130.24 L828.70,130.24 L829.40,130.24" stroke="#00ffff" stroke-width="2.6" stroke-dasharray="2.2 13.4" stroke-dashoffset="-8.8"/>
<path d="M552.00,147.30 L552.70,147.30 L553.39,147.30 L554.09,147.30 L554.78,147.30 L555.48,147.30 L556.17,147.30 L556.87,147.30 L557.56,147.30 L558.26,147.30 L558.95,147.30 L559.65,147.30 L560.34,147.30 L561.04,147.30 L561.73,147.30 L562.43,147.30 L563.12,147.30 L563.82,147.30 L564.51,147.30 L565.21,147.30 L565.90,147.30 L566.60,147.30 L567.30,147.30 L567.99,147.30 L568.69,147.30 L569.38,147.30 L570.08,147.30 L570.77,147.30 L571.47,147.30 L572.16,147.30 L572.86,147.29 L573.55,147.29 L574.25,147.29 L574.94,147.29 L575.64,147.29 L576.33,147.29 L577.03,147.29 L577.72,147.29 L578.42,147.29 L579.11,147.29 L579.81,147.29 L580.50,147.29 L581.20,147.29 L581.90,147.29 L582.59,147.29 L583.29,147.29 L583.98,147.29 L584.68,147.29 L585.37,147.29 L586.07,147.29 L586.76,147.29 L587.46,147.29 L588.15,147.29 L588.85,147.29 L589.54,147.29 L590.24,147.29 L590.93,147.29 L591.63,147.29 L592.32,147.29 L593.02,147.29 L593.71,147.29 L594.41,147.29 L595.10,147.29 L595.80,147.29 L596.50,147.29 L597.19,147.29 L597.89,147.29 L598.58,147.29 L599.28,147.28 L599.97,147.28 L600.67,147.28 L601.36,147.28 L602.06,147.28 L602.75,147.28 L603.45,147.28 L604.14,147.28 L604.84,147.28 L605.53,147.28 L606.23,147.28 L606.92,147.28 L607.62,147.28 L608.31,147.28 L609.01,147.28 L609.70,147.28 L610.40,147.28 L611.10,147.28 L611.79,147.27 L612.49,147.27 L613.18,147.27 L613.88,147.27 L614.57,147.27 L615.27,147.27 L615.96,147.27 L616.66,147.27 L617.35,147.27 L618.05,147.27 L618.74,147.27 L619.44,147.27 L620.13,147.26 L620.83,147.26 L621.52,147.26 L622.22,147.26 L622.91,147.26 L623.61,147.26 L624.30,147.26 L625.00,147.26 L625.70,147.25 L626.39,147.25 L627.09,147.25 L627.78,147.25 L628.48,147.25 L629.17,147.25 L629.87,147.25 L630.56,147.24 L631.26,147.24 L631.95,147.24 L632.65,147.24 L633.34,147.24 L634.04,147.24 L634.73,147.23 L635.43,147.23 L636.12,147.23 L636.82,147.23 L637.51,147.23 L638.21,147.22 L638.90,147.22 L639.60,147.22 L640.30,147.22 L640.99,147.21 L641.69,147.21 L642.38,147.21 L643.08,147.21 L643.77,147.20 L644.47,147.20 L645.16,147.20 L645.86,147.20 L646.55,147.19 L647.25,147.19 L647.94,147.19 L648.64,147.18 L649.33,147.18 L650.03,147.18 L650.72,147.17 L651.42,147.17 L652.11,147.16 L652.81,147.16 L653.50,147.16 L654.20,147.15 L654.90,147.15 L655.59,147.14 L656.29,147.14 L656.98,147.13 L657.68,147.13 L658.37,147.13 L659.07,147.12 L659.76,147.11 L660.46,147.11 L661.15,147.10 L661.85,147.10 L662.54,147.09 L663.24,147.09 L663.93,147.08 L664.63,147.07 L665.32,147.07 L666.02,147.06 L666.71,147.05 L667.41,147.05 L668.10,147.04 L668.80,147.03 L669.50,147.02 L670.19,147.02 L670.89,147.01 L671.58,147.00 L672.28,146.99 L672.97,146.98 L673.67,146.97 L674.36,146.96 L675.06,146.95 L675.75,146.94 L676.45,146.93 L677.14,146.92 L677.84,146.91 L678.53,146.90 L679.23,146.89 L679.92,146.88 L680.62,146.86 L681.31,146.85 L682.01,146.84 L682.70,146.83 L683.40,146.81 L684.10,146.80 L684.79,146.78 L685.49,146.77 L686.18,146.75 L686.88,146.74 L687.57,146.72 L688.27,146.71 L688.96,146.69 L689.66,146.67 L690.35,146.65 L691.05,146.63 L691.74,146.62 L692.44,146.60 L693.13,146.58 L693.83,146.56 L694.52,146.53 L695.22,146.51 L695.91,146.49 L696.61,146.47 L697.30,146.44 L698.00,146.42 L698.70,146.39 L699.39,146.37 L700.09,146.34 L700.78,146.32 L701.48,146.29 L702.17,146.26 L702.87,146.23 L703.56,146.20 L704.26,146.17 L704.95,146.14 L705.65,146.11 L706.34,146.07 L707.04,146.04 L707.73,146.00 L708.43,145.97 L709.12,145.93 L709.82,145.89 L710.51,145.85 L711.21,145.81 L711.90,145.77 L712.60,145.73 L713.30,145.69 L713.99,145.64 L714.69,145.60 L715.38,145.55 L716.08,145.50 L716.77,145.46 L717.47,145.41 L718.16,145.35 L718.86,145.30 L719.55,145.25 L720.25,145.19 L720.94,145.14 L721.64,145.08 L722.33,145.02 L723.03,144.96 L723.72,144.90 L724.42,144.83 L725.11,144.77 L725.81,144.70 L726.50,144.63 L727.20,144.56 L727.90,144.49 L728.59,144.42 L729.29,144.35 L729.98,144.27 L730.68,144.19 L731.37,144.11 L732.07,144.03 L732.76,143.95 L733.46,143.86 L734.15,143.78 L734.85,143.69 L735.54,143.60 L736.24,143.51 L736.93,143.41 L737.63,143.32 L738.32,143.22 L739.02,143.12 L739.71,143.02 L740.41,142.91 L741.10,142.81 L741.80,142.70 L742.50,142.59 L743.19,142.48 L743.89,142.37 L744.58,142.25 L745.28,142.14 L745.97,142.02 L746.67,141.90 L747.36,141.77 L748.06,141.65 L748.75,141.52 L749.45,141.39 L750.14,141.26 L750.84,141.13 L751.53,140.99 L752.23,140.86 L752.92,140.72 L753.62,140.58 L754.31,140.44 L755.01,140.29 L755.70,140.15 L756.40,140.00 L757.10,139.85 L757.79,139.70 L758.49,139.55 L759.18,139.40 L759.88,139.24 L760.57,139.09 L761.27,138.93 L761.96,138.77 L762.66,138.61 L763.35,138.45 L764.05,138.29 L764.74,138.13 L765.44,137.96 L766.13,137.80 L766.83,137.63 L767.52,137.47 L768.22,137.30 L768.91,137.14 L769.61,136.97 L770.30,136.80 L771.00,136.64 L771.70,136.47 L772.39,136.30 L773.09,136.14 L773.78,135.97 L774.48,135.80 L775.17,135.64 L775.87,135.48 L776.56,135.31 L777.26,135.15 L777.95,134.99 L778.65,134.83 L779.34,134.67 L780.04,134.51 L780.73,134.36 L781.43,134.21 L782.12,134.05 L782.82,133.91 L783.51,133.76 L784.21,133.61 L784.90,133.47 L785.60,133.33 L786.30,133.19 L786.99,133.06 L787.69,132.92 L788.38,132.80 L789.08,132.67 L789.77,132.55 L790.47,132.43 L791.16,132.31 L791.86,132.20 L792.55,132.09 L793.25,131.98 L793.94,131.88 L794.64,131.78 L795.33,131.68 L796.03,131.59 L796.72,131.50 L797.42,131.41 L798.11,131.33 L798.81,131.25 L799.50,131.18 L800.20,131.11 L800.90,131.04 L801.59,130.98 L802.29,130.92 L802.98,130.86 L803.68,130.81 L804.37,130.76 L805.07,130.71 L805.76,130.67 L806.46,130.63 L807.15,130.59 L807.85,130.55 L808.54,130.52 L809.24,130.49 L809.93,130.46 L810.63,130.44 L811.32,130.42 L812.02,130.40 L812.71,130.38 L813.41,130.36 L814.10,130.34 L814.80,130.33 L815.50,130.32 L816.19,130.31 L816.89,130.30 L817.58,130.29 L818.28,130.28 L818.97,130.28 L819.67,130.27 L820.36,130.27 L821.06,130.26 L821.75,130.26 L822.45,130.25 L823.14,130.25 L823.84,130.25 L824.53,130.25 L825.23,130.25 L825.92,130.25 L826.62,130.24 L827.31,130.24 L828.01,130.24 L828.70,130.24 L829.40,130.24" stroke="#0000ff" stroke-width="2.6" stroke-dasharray="1.9 29.3" stroke-dashoffset="-13.05"/>
<path d="M552.00,147.30 L552.70,147.30 L553.39,147.30 L554.09,147.30 L554.78,147.30 L555.48,147.30 L556.17,147.30 L556.87,147.30 L557.56,147.30 L558.26,147.30 L558.95,147.30 L559.65,147.30 L560.34,147.30 L561.04,147.30 L561.73,147.30 L562.43,147.30 L563.12,147.30 L563.82,147.30 L564.51,147.30 L565.21,147.30 L565.90,147.30 L566.60,147.30 L567.30,147.30 L567.99,147.30 L568.69,147.30 L569.38,147.30 L570.08,147.30 L570.77,147.30 L571.47,147.30 L572.16,147.30 L572.86,147.29 L573.55,147.29 L574.25,147.29 L574.94,147.29 L575.64,147.29 L576.33,147.29 L577.03,147.29 L577.72,147.29 L578.42,147.29 L579.11,147.29 L579.81,147.29 L580.50,147.29 L581.20,147.29 L581.90,147.29 L582.59,147.29 L583.29,147.29 L583.98,147.29 L584.68,147.29 L585.37,147.29 L586.07,147.29 L586.76,147.29 L587.46,147.29 L588.15,147.29 L588.85,147.29 L589.54,147.29 L590.24,147.29 L590.93,147.29 L591.63,147.29 L592.32,147.29 L593.02,147.29 L593.71,147.29 L594.41,147.29 L595.10,147.29 L595.80,147.29 L596.50,147.29 L597.19,147.29 L597.89,147.29 L598.58,147.29 L599.28,147.28 L599.97,147.28 L600.67,147.28 L601.36,147.28 L602.06,147.28 L602.75,147.28 L603.45,147.28 L604.14,147.28 L604.84,147.28 L605.53,147.28 L606.23,147.28 L606.92,147.28 L607.62,147.28 L608.31,147.28 L609.01,147.28 L609.70,147.28 L610.40,147.28 L611.10,147.28 L611.79,147.27 L612.49,147.27 L613.18,147.27 L613.88,147.27 L614.57,147.27 L615.27,147.27 L615.96,147.27 L616.66,147.27 L617.35,147.27 L618.05,147.27 L618.74,147.27 L619.44,147.27 L620.13,147.26 L620.83,147.26 L621.52,147.26 L622.22,147.26 L622.91,147.26 L623.61,147.26 L624.30,147.26 L625.00,147.26 L625.70,147.25 L626.39,147.25 L627.09,147.25 L627.78,147.25 L628.48,147.25 L629.17,147.25 L629.87,147.25 L630.56,147.24 L631.26,147.24 L631.95,147.24 L632.65,147.24 L633.34,147.24 L634.04,147.24 L634.73,147.23 L635.43,147.23 L636.12,147.23 L636.82,147.23 L637.51,147.23 L638.21,147.22 L638.90,147.22 L639.60,147.22 L640.30,147.22 L640.99,147.21 L641.69,147.21 L642.38,147.21 L643.08,147.21 L643.77,147.20 L644.47,147.20 L645.16,147.20 L645.86,147.20 L646.55,147.19 L647.25,147.19 L647.94,147.19 L648.64,147.18 L649.33,147.18 L650.03,147.18 L650.72,147.17 L651.42,147.17 L652.11,147.16 L652.81,147.16 L653.50,147.16 L654.20,147.15 L654.90,147.15 L655.59,147.14 L656.29,147.14 L656.98,147.13 L657.68,147.13 L658.37,147.13 L659.07,147.12 L659.76,147.11 L660.46,147.11 L661.15,147.10 L661.85,147.10 L662.54,147.09 L663.24,147.09 L663.93,147.08 L664.63,147.07 L665.32,147.07 L666.02,147.06 L666.71,147.05 L667.41,147.05 L668.10,147.04 L668.80,147.03 L669.50,147.02 L670.19,147.02 L670.89,147.01 L671.58,147.00 L672.28,146.99 L672.97,146.98 L673.67,146.97 L674.36,146.96 L675.06,146.95 L675.75,146.94 L676.45,146.93 L677.14,146.92 L677.84,146.91 L678.53,146.90 L679.23,146.89 L679.92,146.88 L680.62,146.86 L681.31,146.85 L682.01,146.84 L682.70,146.83 L683.40,146.81 L684.10,146.80 L684.79,146.78 L685.49,146.77 L686.18,146.75 L686.88,146.74 L687.57,146.72 L688.27,146.71 L688.96,146.69 L689.66,146.67 L690.35,146.65 L691.05,146.63 L691.74,146.62 L692.44,146.60 L693.13,146.58 L693.83,146.56 L694.52,146.53 L695.22,146.51 L695.91,146.49 L696.61,146.47 L697.30,146.44 L698.00,146.42 L698.70,146.39 L699.39,146.37 L700.09,146.34 L700.78,146.32 L701.48,146.29 L702.17,146.26 L702.87,146.23 L703.56,146.20 L704.26,146.17 L704.95,146.14 L705.65,146.11 L706.34,146.07 L707.04,146.04 L707.73,146.00 L708.43,145.97 L709.12,145.93 L709.82,145.89 L710.51,145.85 L711.21,145.81 L711.90,145.77 L712.60,145.73 L713.30,145.69 L713.99,145.64 L714.69,145.60 L715.38,145.55 L716.08,145.50 L716.77,145.46 L717.47,145.41 L718.16,145.35 L718.86,145.30 L719.55,145.25 L720.25,145.19 L720.94,145.14 L721.64,145.08 L722.33,145.02 L723.03,144.96 L723.72,144.90 L724.42,144.83 L725.11,144.77 L725.81,144.70 L726.50,144.63 L727.20,144.56 L727.90,144.49 L728.59,144.42 L729.29,144.35 L729.98,144.27 L730.68,144.19 L731.37,144.11 L732.07,144.03 L732.76,143.95 L733.46,143.86 L734.15,143.78 L734.85,143.69 L735.54,143.60 L736.24,143.51 L736.93,143.41 L737.63,143.32 L738.32,143.22 L739.02,143.12 L739.71,143.02 L740.41,142.91 L741.10,142.81 L741.80,142.70 L742.50,142.59 L743.19,142.48 L743.89,142.37 L744.58,142.25 L745.28,142.14 L745.97,142.02 L746.67,141.90 L747.36,141.77 L748.06,141.65 L748.75,141.52 L749.45,141.39 L750.14,141.26 L750.84,141.13 L751.53,140.99 L752.23,140.86 L752.92,140.72 L753.62,140.58 L754.31,140.44 L755.01,140.29 L755.70,140.15 L756.40,140.00 L757.10,139.85 L757.79,139.70 L758.49,139.55 L759.18,139.40 L759.88,139.24 L760.57,139.09 L761.27,138.93 L761.96,138.77 L762.66,138.61 L763.35,138.45 L764.05,138.29 L764.74,138.13 L765.44,137.96 L766.13,137.80 L766.83,137.63 L767.52,137.47 L768.22,137.30 L768.91,137.14 L769.61,136.97 L770.30,136.80 L771.00,136.64 L771.70,136.47 L772.39,136.30 L773.09,136.14 L773.78,135.97 L774.48,135.80 L775.17,135.64 L775.87,135.48 L776.56,135.31 L777.26,135.15 L777.95,134.99 L778.65,134.83 L779.34,134.67 L780.04,134.51 L780.73,134.36 L781.43,134.21 L782.12,134.05 L782.82,133.91 L783.51,133.76 L784.21,133.61 L784.90,133.47 L785.60,133.33 L786.30,133.19 L786.99,133.06 L787.69,132.92 L788.38,132.80 L789.08,132.67 L789.77,132.55 L790.47,132.43 L791.16,132.31 L791.86,132.20 L792.55,132.09 L793.25,131.98 L793.94,131.88 L794.64,131.78 L795.33,131.68 L796.03,131.59 L796.72,131.50 L797.42,131.41 L798.11,131.33 L798.81,131.25 L799.50,131.18 L800.20,131.11 L800.90,131.04 L801.59,130.98 L802.29,130.92 L802.98,130.86 L803.68,130.81 L804.37,130.76 L805.07,130.71 L805.76,130.67 L806.46,130.63 L807.15,130.59 L807.85,130.55 L808.54,130.52 L809.24,130.49 L809.93,130.46 L810.63,130.44 L811.32,130.42 L812.02,130.40 L812.71,130.38 L813.41,130.36 L814.10,130.34 L814.80,130.33 L815.50,130.32 L816.19,130.31 L816.89,130.30 L817.58,130.29 L818.28,130.28 L818.97,130.28 L819.67,130.27 L820.36,130.27 L821.06,130.26 L821.75,130.26 L822.45,130.25 L823.14,130.25 L823.84,130.25 L824.53,130.25 L825.23,130.25 L825.92,130.25 L826.62,130.24 L827.31,130.24 L828.01,130.24 L828.70,130.24 L829.40,130.24" stroke="#a62222" stroke-width="3" stroke-dasharray="9.1 3.1 1.4 2.0" stroke-dashoffset="0.6"/>
</g>
<rect x="552.00" y="17.00" width="277.40" height="195.00" fill="none" stroke="#000" stroke-width="2"/>
<text x="535.00" y="29.00" font-size="27.0" text-anchor="end" transform="rotate(0.05 535.00 29.00)">10<tspan dy="-13.8" font-size="21.6">2</tspan></text>
<text x="535.00" y="94.00" font-size="27.0" text-anchor="end" transform="rotate(0.05 535.00 94.00)">10<tspan dy="-13.8" font-size="21.6">1</tspan></text>
<text x="535.00" y="159.00" font-size="27.0" text-anchor="end" transform="rotate(0.05 535.00 159.00)">10<tspan dy="-13.8" font-size="21.6">0</tspan></text>
<text x="535.00" y="224.00" font-size="27.0" text-anchor="end" transform="rotate(0.05 535.00 224.00)">10<tspan dy="-13.8" font-size="21.6">-1</tspan></text>
<text x="552.00" y="251.80" font-size="27.0" text-anchor="middle" transform="rotate(0.05 552.00 251.80)">10<tspan dy="-13.8" font-size="21.6">-4</tspan></text>
<text x="662.96" y="251.80" font-size="27.0" text-anchor="middle" transform="rotate(0.05 662.96 251.80)">10<tspan dy="-13.8" font-size="21.6">-2</tspan></text>
<text x="773.92" y="251.80" font-size="27.0" text-anchor="middle" transform="rotate(0.05 773.92 251.80)">10<tspan dy="-13.8" font-size="21.6">0</tspan></text>
<text x="590.9" y="71.2" font-size="28" transform="rotate(0.05 591 71)">(b)</text>
<text y="287.7" font-size="27" transform="rotate(0.05 690 288)"><tspan x="649.3" font-size="28.5" font-style="italic">t</tspan><tspan x="671.4" font-size="28.5">/</tspan><tspan x="685.6" font-size="30.5">τ</tspan><tspan x="698.4" dy="7.3" font-size="21.7">loss</tspan></text>
<text font-size="27.4" transform="translate(464.3,115.2) rotate(-90)" text-anchor="middle"><tspan dy="3.4">&lt;</tspan><tspan dy="-3.4">E</tspan><tspan dy="3.4">&gt;</tspan><tspan dy="-3.4">(t) / </tspan><tspan dy="3.4">&lt;</tspan><tspan dy="-3.4">E</tspan><tspan dy="3.4">&gt;</tspan><tspan dy="-3.4">(0)</tspan></text>
</svg></body></html>
